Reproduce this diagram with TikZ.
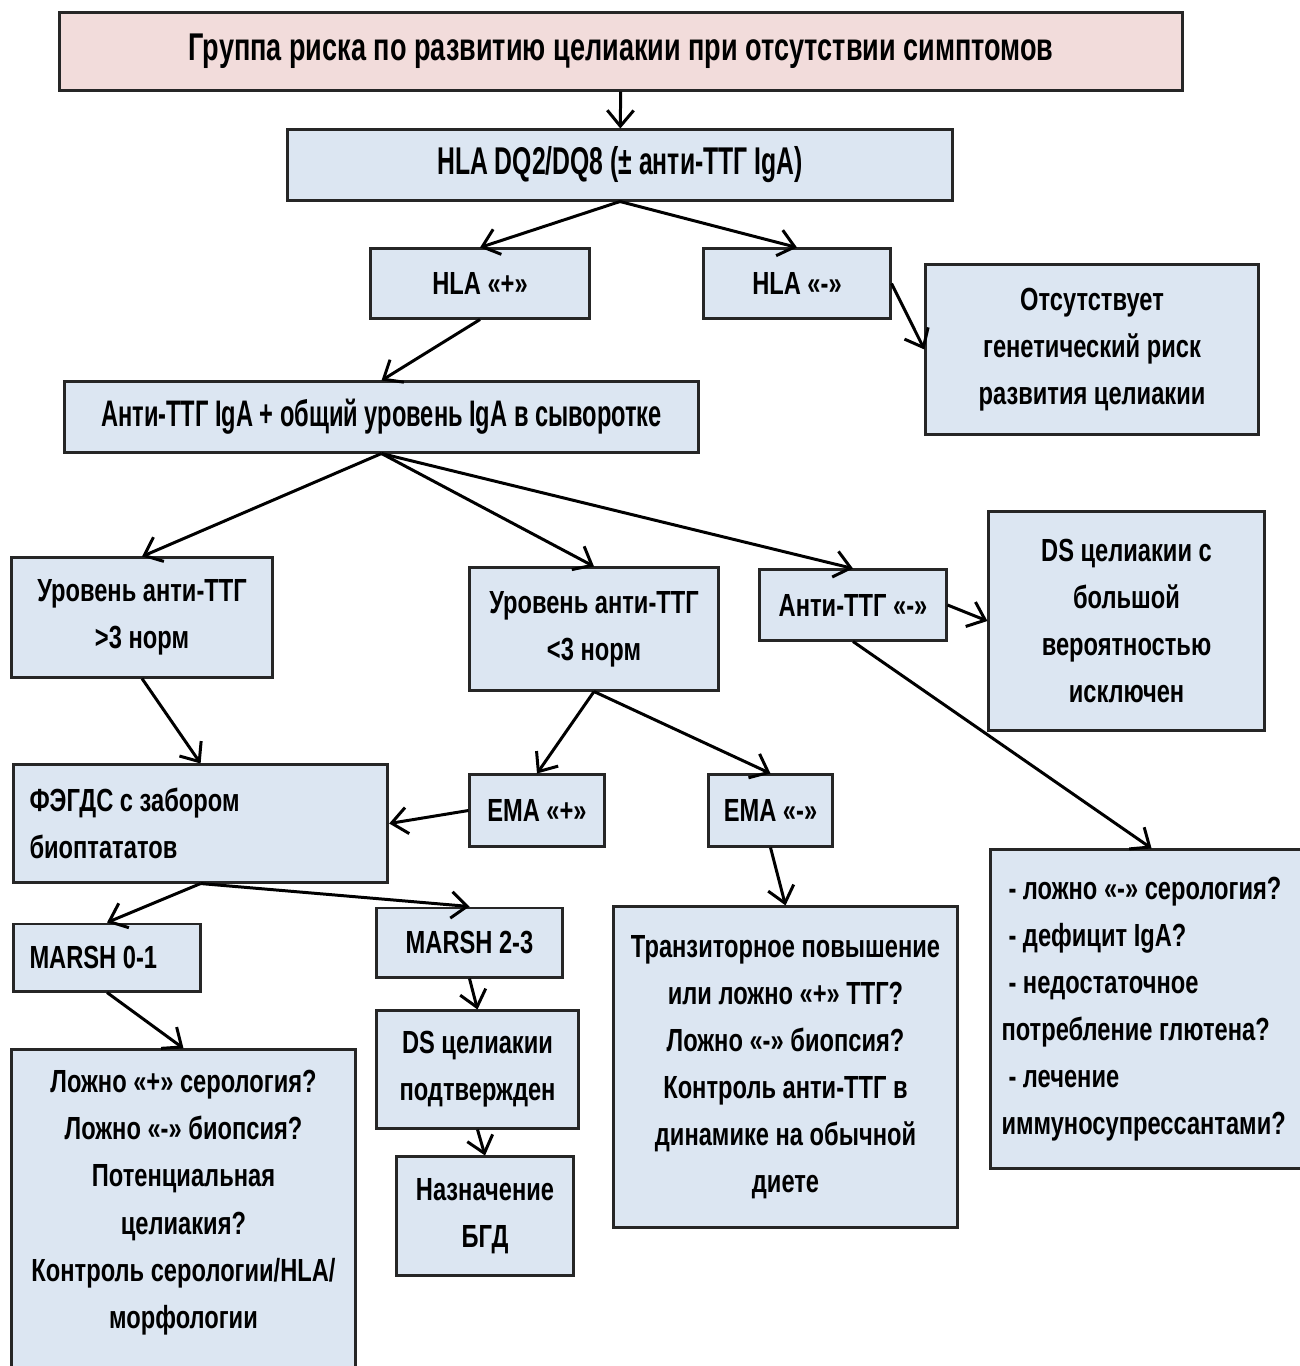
\documentclass[tikz,border=0pt]{standalone}
\usepackage{fontspec}
\setmainfont{Liberation Sans}[FakeStretch=0.74]
\newfontfamily\titlefont{Liberation Sans}[FakeStretch=0.70]
\newfontfamily\condfont{Liberation Sans}[FakeStretch=0.64]
\usetikzlibrary{arrows.meta}
\definecolor{boxblue}{HTML}{DCE6F2}
\definecolor{titlepink}{HTML}{F2DCDB}

\begin{document}
\begin{tikzpicture}[x=0.01cm, y=-0.01cm, line width=0.85pt,
    >={Straight Barb[length=4.5pt,width=7.5pt]},
    main/.style = {draw=black!85, fill=boxblue, align=center, inner sep=0pt,
        font=\fontsize{9.1}{13.4}\selectfont\bfseries}]

    \useasboundingbox[fill=white] (0,0) rectangle (1300,1366);

    \node[main, fill=titlepink, minimum width=11.22cm, minimum height=0.77cm,
        font=\titlefont\fontsize{11}{13.4}\selectfont\bfseries] (1) at (621,51.5)
        {Группа риска по развитию целиакии при отсутствии симптомов};
    \node[main, minimum width=6.64cm, minimum height=0.7cm,
        font=\condfont\fontsize{11}{13.4}\selectfont\bfseries] (2) at (620,165)
        {HLA DQ2/DQ8 (± анти-ТТГ IgA)};
    \node[main, minimum width=2.18cm, minimum height=0.69cm] (3) at (480,283.5) {HLA «+»};
    \node[main, minimum width=1.86cm, minimum height=0.69cm] (4) at (797,283.5) {HLA «-»};
    \node[main, minimum width=3.32cm, minimum height=1.69cm] (5) at (1092,349.5)
        {Отсутствует\\ генетический риск\\ развития целиакии};
    \node[main, minimum width=6.33cm, minimum height=0.7cm,
        font=\condfont\fontsize{10.5}{13.4}\selectfont\bfseries] (6) at (381.5,417)
        {Анти-ТТГ IgA + общий уровень IgA в сыворотке};

    \node[main, minimum width=2.6cm, minimum height=1.19cm] (7) at (142,617.5)
        {Уровень анти-ТТГ\\ >3 норм};
    \node[main, minimum width=2.48cm, minimum height=1.22cm] (8) at (594,629)
        {Уровень анти-ТТГ\\ <3 норм};
    \node[main, minimum width=1.86cm, minimum height=0.7cm] (9) at (853,605) {Анти-ТТГ «-»};
    \node[main, minimum width=2.75cm, minimum height=2.18cm] (10) at (1126.5,621)
        {DS целиакии с\\ большой\\ вероятностью\\ исключен};

    \node[main, anchor=west, align=flush left, text width=3.42cm, inner xsep=0.16cm,
        minimum height=1.17cm] (11) at (12,823.5) {ФЭГДС с забором\\ биоптататов};
    \node[main, minimum width=1.34cm, minimum height=0.71cm] (12) at (537,810.5) {EMA «+»};
    \node[main, minimum width=1.23cm, minimum height=0.71cm] (13) at (770.5,810.5) {EMA «-»};
    \node[main, anchor=west, align=flush left, text width=3cm, inner xsep=0.11cm,
        minimum height=3.18cm] (14) at (989,1009)
        {\hspace*{2pt}- ложно «-» серология?\\ \hspace*{2pt}- дефицит IgA?\\
         \hspace*{2pt}- недостаточное\\ потребление глютена?\\
         \hspace*{2pt}- лечение\\ иммуносупрессантами?};

    \node[main, anchor=west, align=flush left, text width=1.55cm, inner xsep=0.16cm,
        minimum height=0.67cm] (15) at (12,957.5) {MARSH 0-1};
    \node[main, minimum width=1.85cm, minimum height=0.69cm] (16) at (469.5,942.5) {MARSH 2-3};
    \node[main, minimum width=3.43cm, minimum height=3.2cm] (17) at (785.5,1067)
        {Транзиторное повышение\\ или ложно «+» ТТГ?\\ Ложно «-» биопсия?\\
         Контроль анти-ТТГ в\\ динамике на обычной\\ диете};
    \node[main, minimum width=3.43cm, minimum height=3.6cm] (18) at (183.5,1230)
        {Ложно «+» серология?\\ Ложно «-» биопсия?\\ Потенциальная\\ целиакия?\\
         Контроль серологии/HLA/\\ морфологии\\ \strut};
    \node[main, minimum width=2.01cm, minimum height=1.17cm] (19) at (477.5,1069.5)
        {DS целиакии\\ подтвержден};
    \node[main, minimum width=1.76cm, minimum height=1.18cm] (20) at (485,1216)
        {Назначение\\ БГД};

    \draw[->] (1) -- (2);
    \draw[->] (2.south) -- (3.north);
    \draw[->] (2.south) -- (4.north);
    \draw[->] (4.east) -- (5.west);
    \draw[->] (3.south) -- (6.north);
    \draw[->] (6.south) -- (7.north);
    \draw[->] (6.south) -- (8.north);
    \draw[->] (6.south) -- (9.north);
    \draw[->] (9.east) -- (10.west);
    \draw[->] (9.south) -- (14.north);
    \draw[->] (7.south) -- (11.north);
    \draw[->] (8.south) -- (12.north);
    \draw[->] (8.south) -- (13.north);
    \draw[->] (12.west) -- (11.east);
    \draw[->] (13.south) -- (17.north);
    \draw[->] (11.south) -- (15.north);
    \draw[->] (11.south) -- (16.north);
    \draw[->] (15.south) -- (18.north);
    \draw[->] (16.south) -- (19.north);
    \draw[->] (19.south) -- (20.north);
\end{tikzpicture}
\end{document}
